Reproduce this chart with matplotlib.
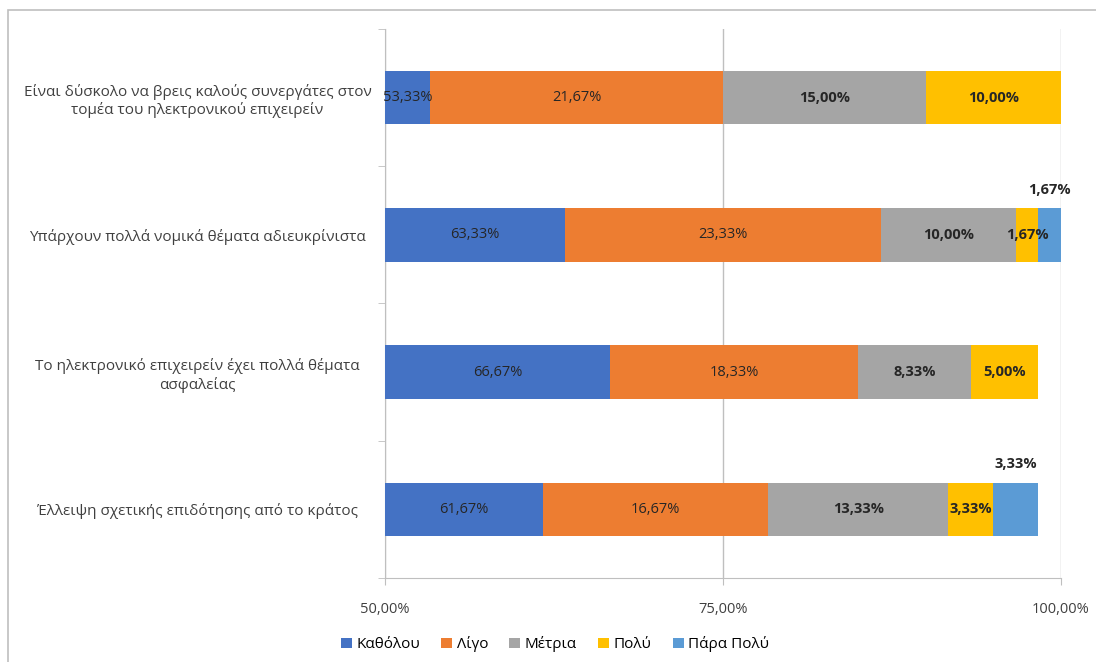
import matplotlib.pyplot as plt
from matplotlib.patches import Rectangle
import numpy as np

plt.rcParams['font.family'] = ['Open Sans', 'DejaVu Sans']

# data (percent)
categories = [
    "Είναι δύσκολο να βρεις καλούς συνεργάτες στον\nτομέα του ηλεκτρονικού επιχειρείν",
    "Υπάρχουν πολλά νομικά θέματα αδιευκρίνιστα",
    "Το ηλεκτρονικό επιχειρείν έχει πολλά θέματα\nασφαλείας",
    "Έλλειψη σχετικής επιδότησης από το κράτος",
]
series_names = ["Καθόλου", "Λίγο", "Μέτρια", "Πολύ", "Πάρα Πολύ"]
katholou = [53.33, 63.33, 66.67, 61.67]
ligo = [21.67, 23.33, 18.33, 16.67]
metria = [15.00, 10.00, 8.33, 13.33]
poly = [10.00, 1.67, 5.00, 3.33]
para_poly = [0.00, 1.67, 0.00, 3.33]
x_ticks = [50, 75, 100]

colors = ["#4472C4", "#ED7D31", "#A5A5A5", "#FFC000", "#5B9BD5"]
bold = [False, False, True, True, True]

def pct(v):
    return f"{v:.2f}".replace(".", ",") + "%"

fig = plt.figure(figsize=(10.96, 6.62), dpi=100)
ax = fig.add_axes([385 / 1096, 1 - 578 / 662, (1061 - 385) / 1096, (578 - 29) / 662])

# chart border
fig.patches.append(Rectangle((8 / 1096, -0.01), 1.02, 1 - 10 / 662 + 0.01,
                             transform=fig.transFigure, fill=False,
                             edgecolor="#BFBFBF", linewidth=1.2))

xmin, xmax = 50, 100
y = np.arange(len(categories))
all_series = [katholou, ligo, metria, poly, para_poly]
left = np.zeros(len(categories))
for name, vals, col, b in zip(series_names, all_series, colors, bold):
    vals = np.array(vals)
    ax.barh(y, vals, left=left, height=0.39, color=col, label=name, zorder=3)
    for i, v in enumerate(vals):
        if v <= 0:
            continue
        lo = max(left[i], xmin)
        hi = min(left[i] + v, xmax)
        cx = (lo + hi) / 2
        if name == "Πάρα Πολύ":
            ax.text(cx, y[i] - 0.33, pct(v), ha="center", va="center",
                    fontsize=10.5, fontweight="bold", color="#262626", zorder=4)
        else:
            ax.text(cx, y[i], pct(v), ha="center", va="center", fontsize=10.5,
                    fontweight="bold" if b else "normal", color="#262626", zorder=4)
    left += vals

ax.set_xlim(xmin, xmax)
ax.set_ylim(len(categories) - 0.5, -0.5)
ax.set_xticks(x_ticks)
ax.set_xticklabels([pct(t) for t in x_ticks], fontsize=10.5, color="#404040")
ax.xaxis.grid(True, color="#BFBFBF", linewidth=1, zorder=0)
ax.set_yticks(y)
ax.set_yticklabels(categories, fontsize=11, color="#404040", ha="center")
ax.tick_params(axis="y", length=0, pad=135)
ax.set_yticks(np.arange(len(categories) + 1) - 0.5, minor=True)
ax.tick_params(axis="y", which="minor", length=5, color="#BFBFBF")
ax.tick_params(axis="x", length=5, color="#BFBFBF", pad=12)

for s in ["top", "right"]:
    ax.spines[s].set_visible(False)
for s in ["left", "bottom"]:
    ax.spines[s].set_color("#BFBFBF")

ax.legend(loc="upper center", bbox_to_anchor=(555 / 1096, 1 - 641 / 662 + 0.028),
          bbox_transform=fig.transFigure, ncol=5, frameon=False, fontsize=11,
          handlelength=0.7, handleheight=0.7, handletextpad=0.3, columnspacing=1.4)

fig.savefig("out.png", dpi=100)
